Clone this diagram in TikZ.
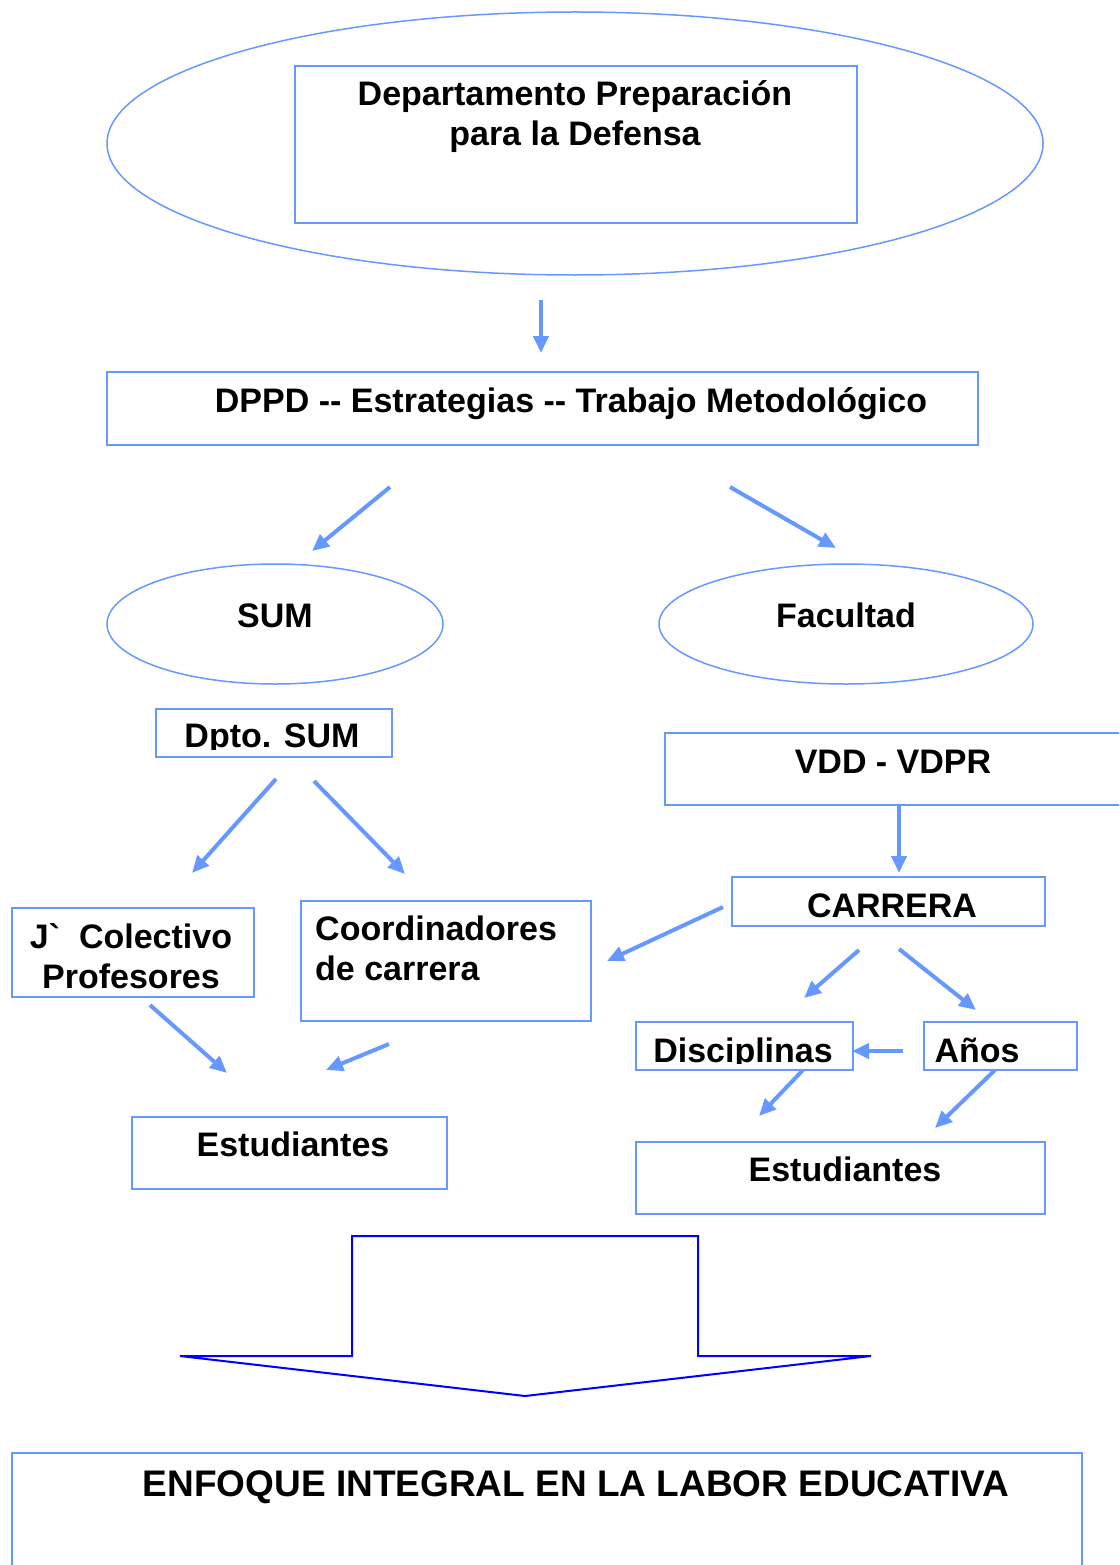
\documentclass[tikz,border=0pt]{standalone}
\usepackage{fontspec}
\setmainfont{Liberation Sans}
\usetikzlibrary{arrows.meta,shapes.geometric}
\definecolor{boxblue}{RGB}{102,153,255}
\definecolor{bigblue}{RGB}{0,0,255}

\begin{document}
\begin{tikzpicture}[x=1pt, y=-1pt,
  box/.style = {draw=boxblue, line width=2pt, rectangle, inner sep=0pt, anchor=north west},
  oval/.style = {draw=boxblue, line width=1.5pt, ellipse, inner sep=0pt},
  txt/.style = {font=\bfseries\fontsize{34}{40}\selectfont, inner sep=0pt, anchor=base, align=center},
  arr/.style = {draw=boxblue, line width=4pt, -{Triangle[length=17pt,width=15pt]}}]
\clip (0,0) rectangle (1119,1565);
% top block
\node[oval, minimum width=936pt, minimum height=263pt] (1) at (575,143.5) {};
\node[box, minimum width=562pt, minimum height=157pt] (2) at (294,65) {};
\node[txt] (2t) at (575,146) {Departamento Preparación\\para la Defensa};
\node[box, minimum width=871pt, minimum height=73pt] (3) at (106,371) {};
\node[txt] (3t) at (571,412) {DPPD {-}{-} Estrategias {-}{-} Trabajo Metodológico};
\node[oval, minimum width=336pt, minimum height=120pt] (4) at (275,624) {};
\node[txt] (4t) at (275,627) {SUM};
\node[oval, minimum width=374pt, minimum height=120pt] (5) at (846,624) {};
\node[txt] (5t) at (846,627) {Facultad};
% left branch
\node[box, minimum width=236pt, minimum height=48pt] (6) at (155,708) {};
\begin{scope}
\clip (6.north west) rectangle ([yshift=9pt]6.south east);
\node[txt] (6t) at (272,747) {Dpto. SUM};
\end{scope}
\node[box, minimum width=242pt, minimum height=89pt] (7) at (11,907) {};
\node[txt] (7t) at (131,988) {J\textasciigrave\ \ Colectivo\\Profesores};
\node[box, minimum width=290pt, minimum height=120pt] (8) at (300,900) {};
\node[txt, anchor=base west, align=left] (8t) at (315,980) {Coordinadores\\de carrera};
\node[box, minimum width=315pt, minimum height=72pt] (9) at (131,1116) {};
\node[txt] (9t) at (293,1156) {Estudiantes};
% right branch
\node[box, minimum width=470pt, minimum height=72pt] (10) at (664,732) {};
\node[txt] (10t) at (893,773) {VDD - VDPR};
\node[box, minimum width=313pt, minimum height=49pt] (11) at (731,876) {};
\node[txt] (11t) at (892,917) {CARRERA};
\node[box, minimum width=217pt, minimum height=48pt] (12) at (635,1021) {};
\begin{scope}
\clip (12.north west) rectangle ([yshift=8pt]12.south east);
\node[txt] (12t) at (743,1062) {Disciplinas};
\end{scope}
\node[box, minimum width=153pt, minimum height=48pt] (13) at (923,1021) {};
\node[txt] (13t) at (977,1062) {Años};
\node[box, minimum width=409pt, minimum height=72pt] (14) at (635,1141) {};
\node[txt] (14t) at (845,1181) {Estudiantes};
% bottom
\node[box, minimum width=1070pt, minimum height=150pt] (15) at (11,1452) {};
\node[txt, font=\bfseries\fontsize{37}{40}\selectfont] (15t) at (576,1496) {ENFOQUE INTEGRAL EN LA LABOR EDUCATIVA};
\draw[bigblue, line width=2pt] (352,1236) -- (698,1236) -- (698,1356) -- (871,1356)
  -- (525,1396) -- (180,1356) -- (352,1356) -- cycle;
% arrow ends
\coordinate (a1) at (541,300);  \coordinate (b1) at (541,353);
\coordinate (a2) at (390,487);  \coordinate (b2) at (312,551);
\coordinate (a3) at (730,487);  \coordinate (b3) at (836,548);
\coordinate (a4) at (276,779);  \coordinate (b4) at (192,873);
\coordinate (a5) at (314,781);  \coordinate (b5) at (405,874);
\coordinate (a6) at (150,1005); \coordinate (b6) at (227,1073);
\coordinate (a7) at (389,1044); \coordinate (b7) at (326,1070);
\coordinate (a8) at (899,804);  \coordinate (b8) at (899,873);
\coordinate (a9) at (723,907);  \coordinate (b9) at (607,961);
\coordinate (a10) at (859,950); \coordinate (b10) at (804,998);
\coordinate (a11) at (899,949); \coordinate (b11) at (976,1010);
\coordinate (a12) at (903,1051); \coordinate (b12) at (852,1051);
\coordinate (a13) at (803,1070); \coordinate (b13) at (759,1116);
\coordinate (a14) at (995,1070); \coordinate (b14) at (935,1128);
\foreach \i in {1,...,14}
  \draw[arr] (a\i) -- (b\i);
\end{tikzpicture}
\end{document}
